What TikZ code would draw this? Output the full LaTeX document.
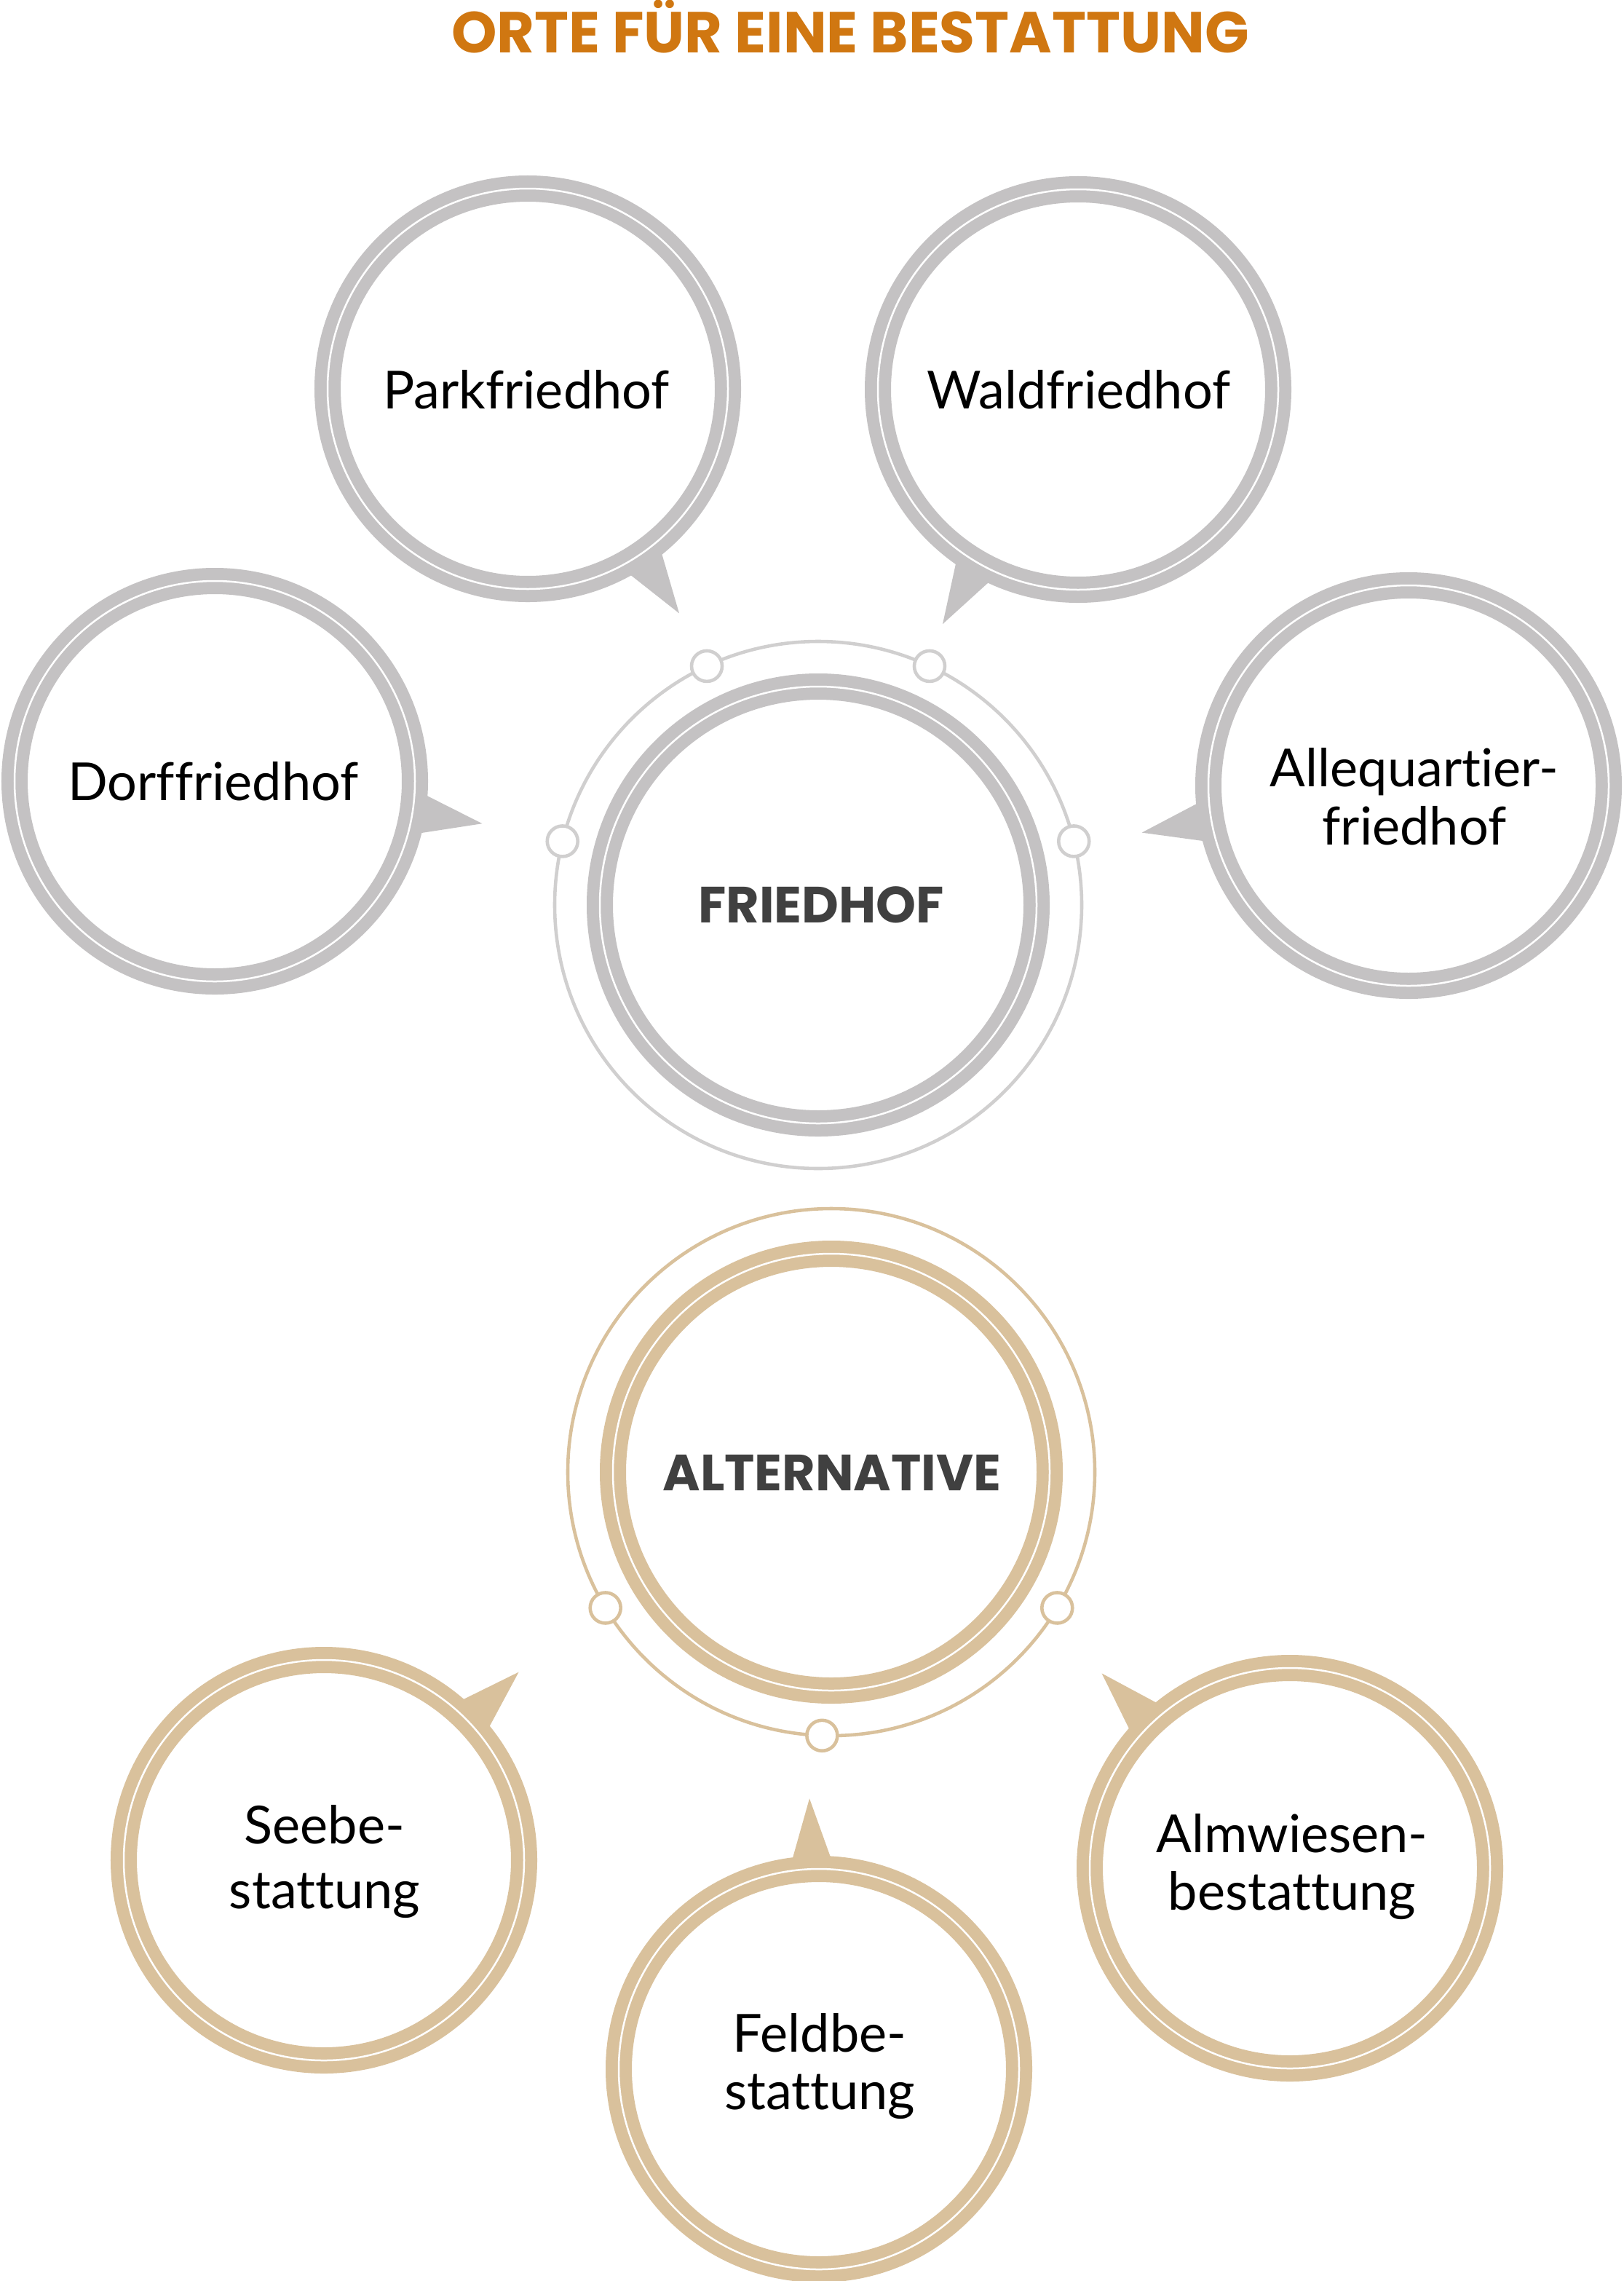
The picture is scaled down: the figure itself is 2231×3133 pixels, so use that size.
\documentclass[tikz,border=0pt]{standalone}
\usepackage{fontspec}
\setmainfont{Lato}[Ligatures=NoCommon]
\newfontfamily\headfont{Poppins}
\usepackage{xcolor}
\definecolor{ashgrey}{HTML}{C4C2C3}
\definecolor{orbitgrey}{HTML}{D0CFCF}
\definecolor{sand}{HTML}{D9C19C}
\definecolor{rust}{HTML}{D07711}
\definecolor{slate}{HTML}{404040}

\begin{document}
\begin{tikzpicture}
[x=.01cm,y=-.01cm,
 band/.style={line width=.1675cm,double=white,double distance=.025cm},
 orbit/.style={line width=1.3pt},
 bead/.style={fill=white,line width=1.3pt},
 word/.style={font=\fontsize{20.5}{22.7}\selectfont,align=center,inner sep=0pt},
 head/.style={font=\headfont\bfseries\fontsize{19.9}{22}\selectfont,text=slate,inner sep=0pt}]

\useasboundingbox (0,0) rectangle (2231,3133);
\fill[white] (0,0) rectangle (2231,3133); %paper

\node[font=\headfont\bfseries\fontsize{22.6}{26}\selectfont,text=rust,anchor=base,inner sep=0pt] (title) at (1168,72) {ORTE FÜR EINE BESTATTUNG};

% friedhof
\draw[orbitgrey,orbit] (1124,1243) circle (362); %orbit
\filldraw[draw=orbitgrey,bead] (1124,1243) ++(-115:362) circle (21);
\filldraw[draw=orbitgrey,bead] (1124,1243) ++(-65:362) circle (21);
\filldraw[draw=orbitgrey,bead] (1124,1243) ++(-166:362) circle (21);
\filldraw[draw=orbitgrey,bead] (1124,1243) ++(-14:362) circle (21);
\draw[ashgrey,band] (1124,1243) circle (300);
\node[head,anchor=base] (friedhof) at (1128,1267) {FRIEDHOF};

\fill[ashgrey,shift={(725,534)}] (50.3:285) -- (56:372) -- (61.7:285) -- cycle; %tail
\draw[ashgrey,band] (725,534) circle (275);
\node[word,anchor=base] (park) at (723,561) {Parkfriedhof};

\fill[ashgrey,shift={(1481,535)}] (114.3:285) -- (120:372) -- (125.7:285) -- cycle; %tail
\draw[ashgrey,band] (1481,535) circle (275);
\node[word,anchor=base] (wald) at (1482,561) {Waldfriedhof};

\fill[ashgrey,shift={(295,1073)}] (3.3:285) -- (9:372) -- (14.7:285) -- cycle; %tail
\draw[ashgrey,band] (295,1073) circle (275);
\node[word,anchor=base] (dorf) at (293,1099) {Dorffriedhof};

\fill[ashgrey,shift={(1935,1079)}] (164.3:285) -- (170:372) -- (175.7:285) -- cycle; %tail
\draw[ashgrey,band] (1935,1079) circle (275);
\node[word] (allee) at (1943,1094) {Allequartier-\\friedhof};

% alternative
\draw[sand,orbit] (1142,2022) circle (362); %orbit
\filldraw[draw=sand,bead] (1142,2022) ++(149:362) circle (21);
\filldraw[draw=sand,bead] (1142,2022) ++(31:362) circle (21);
\filldraw[draw=sand,bead] (1142,2022) ++(92:362) circle (21);
\draw[sand,band] (1142,2022) circle (300);
\node[head,anchor=base] (alternative) at (1143,2047) {ALTERNATIVE};

\fill[sand,shift={(445,2555)}] (-49.7:285) -- (-44:372) -- (-38.3:285) -- cycle; %tail
\draw[sand,band] (445,2555) circle (275);
\node[word,font=\fontsize{20.5}{25.5}\selectfont] (see) at (446,2557) {Seebe-\\stattung};

\fill[sand,shift={(1125,2842)}] (-97.7:285) -- (-92:372) -- (-86.3:285) -- cycle; %tail
\draw[sand,band] (1125,2842) circle (275);
\node[word] (feld) at (1126,2838) {Feldbe-\\stattung};

\fill[sand,shift={(1772,2566)}] (-139.7:285) -- (-134:372) -- (-128.3:285) -- cycle; %tail
\draw[sand,band] (1772,2566) circle (275);
\node[word] (alm) at (1775,2564) {Almwiesen-\\bestattung};
\end{tikzpicture}
\end{document}
